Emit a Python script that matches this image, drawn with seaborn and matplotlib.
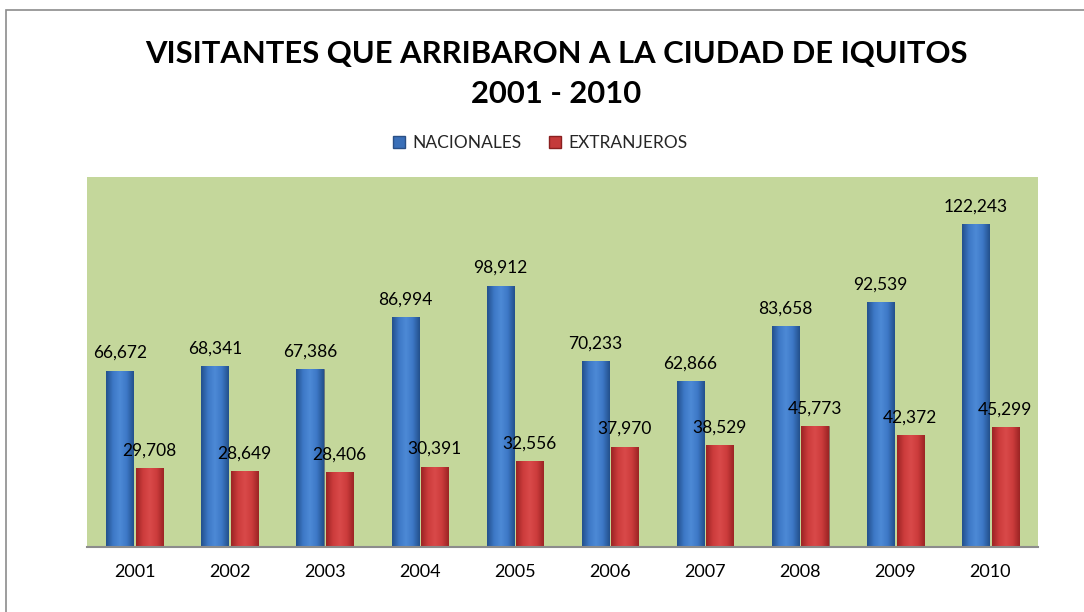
import numpy as np
import pandas as pd
import matplotlib.pyplot as plt
import seaborn as sns
from matplotlib.colors import LinearSegmentedColormap
from matplotlib.patches import Rectangle, Patch

# Data
years = ['2001', '2002', '2003', '2004', '2005', '2006', '2007', '2008', '2009', '2010']
nacionales = [66672, 68341, 67386, 86994, 98912, 70233, 62866, 83658, 92539, 122243]
extranjeros = [29708, 28649, 28406, 30391, 32556, 37970, 38529, 45773, 42372, 45299]
series_names = ['NACIONALES', 'EXTRANJEROS']
title = 'VISITANTES QUE ARRIBARON A LA CIUDAD DE IQUITOS\n2001 - 2010'

df = pd.DataFrame({
    'year': years * 2,
    'value': nacionales + extranjeros,
    'tipo': [series_names[0]] * len(years) + [series_names[1]] * len(years),
})

sns.set_theme(style="white")
plt.rcParams['font.family'] = ['Lato', 'DejaVu Sans']

blue = '#3a6fb8'
red = '#c53a3a'

fig = plt.figure(figsize=(10.84, 6.12), dpi=100)
ax = fig.add_axes([87 / 1084, 1 - 547 / 612, (1038 - 87) / 1084, (547 - 177) / 612])
ax.set_facecolor('#c4d79b')

sns.barplot(data=df, x='year', y='value', hue='tipo', palette=[blue, red],
            width=0.62, gap=0.08, saturation=1, ax=ax, legend=False)

# cylinder style shading
cmap_b = LinearSegmentedColormap.from_list('b', ['#23508c', '#3d78c6', '#4d8ad6', '#3d78c6', '#23508c'])
cmap_r = LinearSegmentedColormap.from_list('r', ['#9c2424', '#cc3c3c', '#d94a4a', '#cc3c3c', '#9c2424'])
grad = np.linspace(0, 1, 64).reshape(1, -1)
for cont, cm in zip(ax.containers, [cmap_b, cmap_r]):
    for p in cont.patches:
        x0, y0 = p.get_x(), p.get_y()
        w, h = p.get_width(), p.get_height()
        im = ax.imshow(grad, extent=[x0, x0 + w, y0, y0 + h], aspect='auto',
                       cmap=cm, zorder=p.get_zorder() + 0.1, interpolation='bicubic')
        im.set_clip_path(p)
        p.set_edgecolor('#5a5a5a')
        p.set_linewidth(0.4)
    ax.bar_label(cont, labels=[f'{v:,.0f}' for v in cont.datavalues],
                 padding=7, fontsize=12.5, color='black', zorder=5)

ax.set_xlim(-0.5, len(years) - 0.5)
ax.set_ylim(0, 140000)
ax.set_yticks([])
ax.set_xlabel('')
ax.set_ylabel('')
for s in ['left', 'right', 'top']:
    ax.spines[s].set_visible(False)
ax.spines['bottom'].set_color('#8c8c8c')
ax.spines['bottom'].set_linewidth(1.5)
ax.tick_params(axis='x', length=0, pad=12, labelsize=13, colors='black')

fig.text(556 / 1084, 1 - 74 / 612, title, ha='center', va='center', fontsize=22.3,
         fontweight='bold', linespacing=1.5, color='black')

handles = [Patch(facecolor=blue, edgecolor='#2a4f85'), Patch(facecolor=red, edgecolor='#8a2020')]
fig.legend(handles, series_names, loc='center', bbox_to_anchor=(540 / 1084, 1 - 143 / 612),
           ncol=2, frameon=False, fontsize=12.5, handlelength=0.7, handleheight=0.7,
           handletextpad=0.4, columnspacing=1.6)

fig.patches.append(Rectangle((6 / 1084, -0.1), 1.2, 1 - 10 / 612 + 0.1, transform=fig.transFigure,
                             fill=False, edgecolor='#8c8c8c', linewidth=1.2))

fig.savefig('out.png', dpi=100, facecolor='white')
